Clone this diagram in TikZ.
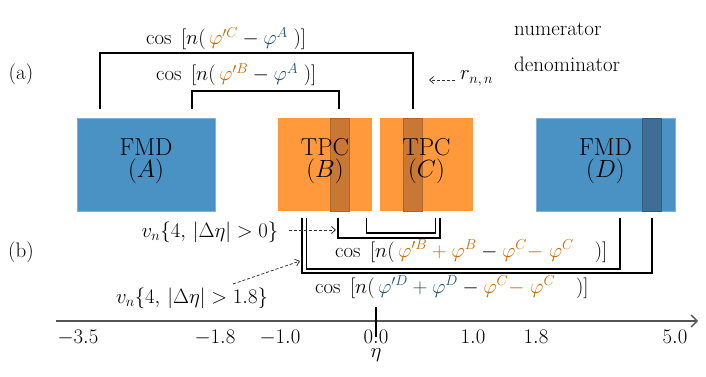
\documentclass[tikz,border=0pt]{standalone}
\usepackage{amsmath}
\usetikzlibrary{arrows.meta}
\definecolor{fmdblue}{RGB}{74,145,196}
\definecolor{fmdedge}{RGB}{125,178,222}
\definecolor{fmddark}{RGB}{62,110,148}
\definecolor{tpcorange}{RGB}{255,153,60}
\definecolor{tpcdark}{RGB}{200,120,52}
\definecolor{phiorange}{RGB}{204,102,0}
\definecolor{phiblue}{RGB}{31,80,122}
\definecolor{axisgray}{RGB}{85,85,85}
\newcommand{\po}[1]{{\color{phiorange}#1}}
\newcommand{\pb}[1]{{\color{phiblue}#1}}
\newcommand{\basesize}{\fontsize{21}{25}\selectfont}
\newcommand{\cosopen}{\cos\hspace{0.45em}[n(\,}
\tikzset{
  fmdbox/.style={rectangle, fill=fmdblue, draw=fmdedge, line width=0.6pt, inner sep=0pt},
  tpcbox/.style={rectangle, fill=tpcorange, inner sep=0pt},
  stripbox/.style={rectangle, inner sep=0pt, minimum width=19pt, minimum height=93pt, line width=0.4pt},
  boxlabel/.style={align=center, inner sep=0pt, font=\fontsize{24.5}{22}\selectfont},
  txt/.style={inner sep=0pt, font=\basesize},
  bracket/.style={draw=black, line width=1.3pt},
  dasharrow/.style={draw=black!80, line width=0.8pt, densely dashed, -{Straight Barb[length=4pt,width=7pt]}},
  axisline/.style={draw=axisgray, line width=2.4pt, -{Straight Barb[length=6pt,width=12pt,line width=1.4pt]}},
  ticklabel/.style={inner sep=0pt, anchor=base, font=\basesize}
}
\begin{document}
\begin{tikzpicture}[x=1pt,y=-1pt]
\useasboundingbox (0,0) rectangle (706,377);
% detector boxes
\node[fmdbox, minimum width=138pt, minimum height=93pt] (A) at (146,164.5) {};
\node[tpcbox, minimum width=94pt, minimum height=93pt] (B) at (325,164.5) {};
\node[tpcbox, minimum width=93pt, minimum height=93pt] (C) at (426.5,164.5) {};
\node[fmdbox, minimum width=139pt, minimum height=93pt] (D) at (605.5,164.5) {};
\node[stripbox, fill=tpcdark, draw=tpcdark!85!black] (sB) at (339.5,164.5) {};
\node[stripbox, fill=tpcdark, draw=tpcdark!85!black] (sC) at (412.5,164.5) {};
\node[stripbox, fill=fmddark, draw=fmddark!85!black] (sD) at (651.5,164.5) {};
\node[boxlabel] (lA) at ([yshift=3.5pt]A.center) {FMD\\$(A)$};
\node[boxlabel] (lB) at ([yshift=3.5pt]B.center) {TPC\\$(B)$};
\node[boxlabel] (lC) at ([yshift=3.5pt]C.center) {TPC\\$(C)$};
\node[boxlabel] (lD) at ([yshift=3.5pt]D.center) {FMD\\$(D)$};
% panel labels
\node[txt, anchor=base] (pa) at (21,80) {(a)};
\node[txt, anchor=base] (pb) at (21,257) {(b)};
\node[txt, anchor=base west] (num) at (514,36) {numerator};
\node[txt, anchor=base west] (den) at (514,72) {denominator};
% top brackets
\coordinate (oa1) at (100,109);
\coordinate (oa2) at (413,109);
\coordinate (ia1) at (192,109);
\coordinate (ia2) at (339,109);
\draw[bracket] (oa1) -- ++(0,-56) -| (oa2);
\draw[bracket] (ia1) -- ++(0,-18) -| (ia2);
\node[txt, anchor=base west] (cosC) at (146,45)
  {$\cosopen\po{\varphi'^{C}}-\pb{\varphi^{A}}\;)]$};
\node[txt, anchor=base west] (cosB) at (156,81)
  {$\cosopen\po{\varphi'^{B}}-\pb{\varphi^{A}}\;)]$};
\node[txt, anchor=base west] (rnn) at (460,80) {$r_{n,\,n}$};
\coordinate (sr) at (455,80);
\coordinate (tr) at (429,80);
\draw[dasharrow] (sr) -- (tr);
% bottom brackets
\coordinate (bd1) at (302,218);
\coordinate (bd2) at (652,218);
\coordinate (bb1) at (306.5,218);
\coordinate (bb2) at (620,218);
\coordinate (bc1) at (338,218);
\coordinate (bc2) at (440,218);
\coordinate (be1) at (366.5,218);
\coordinate (be2) at (435.5,218);
\draw[bracket] (bd1) -- ++(0,55) -| (bd2);
\draw[bracket] (bb1) -- ++(0,51) -| (bb2);
\draw[bracket] (bc1) -- ++(0,20) -| (bc2);
\draw[bracket] (be1) -- ++(0,15) -| (be2);
\node[txt, anchor=base west] (cosBC) at (335,257)
  {$\cosopen\po{\varphi'^{B}+\varphi^{B}}-\po{\varphi^{C}{-}\;\varphi^{C}}\quad)]$};
\node[txt, anchor=base west] (cosDC) at (315,293)
  {$\cosopen\pb{\varphi'^{D}+\varphi^{D}}-\po{\varphi^{C}{-}\;\varphi^{C}}\quad)]$};
\node[txt, anchor=base] (vn0) at (210,237) {$v_n\{4,\,|\Delta\eta|>0\}$};
\node[txt, anchor=base] (vn18) at (192,303) {$v_n\{4,\,|\Delta\eta|>1.8\}$};
\coordinate (s0) at (289,230);
\coordinate (t0) at (336,230);
\coordinate (s1) at (233,284);
\coordinate (t1) at (300,261);
\draw[dasharrow] (s0) -- (t0);
\draw[dasharrow] (s1) -- (t1);
% eta axis
\coordinate (ax0) at (56,321);
\coordinate (ax1) at (698,321);
\draw[axisline] (ax0) -- (ax1);
\coordinate (tk0) at (376,307);
\coordinate (tk1) at (376,337);
\draw[line width=1.4pt, black] (tk0) -- (tk1);
\node[ticklabel] (m35) at (78,343) {$-3.5$};
\node[ticklabel] (m18) at (215,343) {$-1.8$};
\node[ticklabel] (m10) at (280,343) {$-1.0$};
\node[ticklabel] (z00) at (376,343) {$0.0$};
\node[ticklabel] (p10) at (473,343) {$1.0$};
\node[ticklabel] (p18) at (536,343) {$1.8$};
\node[ticklabel] (p50) at (675,343) {$5.0$};
\node[ticklabel] (eta) at (376,357) {$\eta$};
\end{tikzpicture}
\end{document}
